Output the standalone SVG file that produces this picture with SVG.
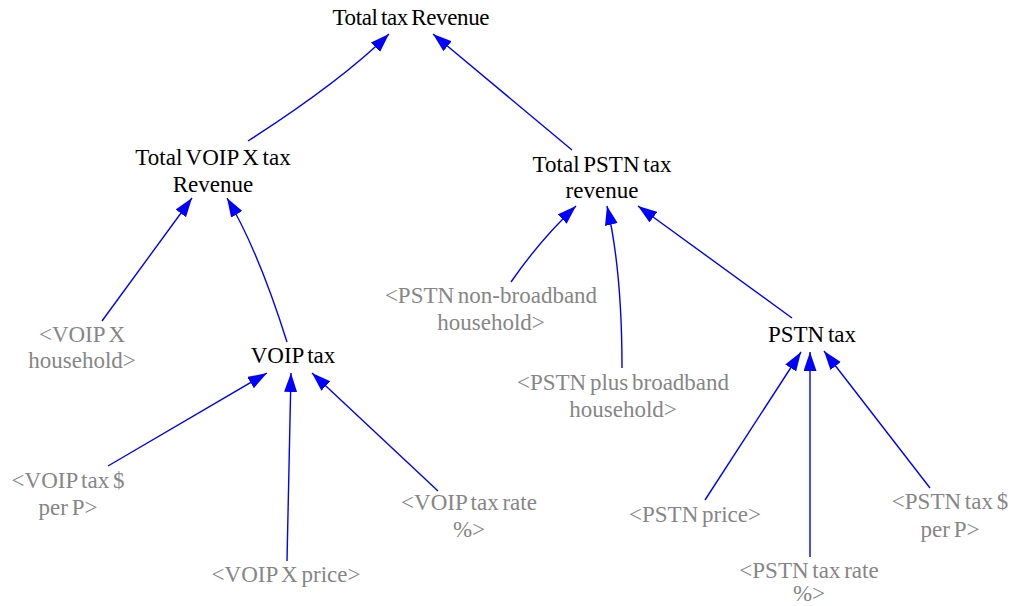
<svg xmlns="http://www.w3.org/2000/svg" width="1012" height="606" viewBox="0 0 1012 606">
<style>
text{font-family:'Liberation Serif','Times New Roman',Times,'DejaVu Serif',serif;font-size:23px;text-anchor:middle;word-spacing:-2px}
.n{fill:#000}
.g{fill:#868686}
.e path{fill:none;stroke:#0000ff;stroke-width:1.4;marker-end:url(#ah)}
</style>
<defs>
<marker id="ah" markerUnits="userSpaceOnUse" markerWidth="20" markerHeight="14" refX="19" refY="6.5" orient="auto">
<path d="M0,0 L19,6.5 L0,13 Z" fill="#0000ff"/>
</marker>
</defs>
<rect width="1012" height="606" fill="#fff"/>
<g class="e" id="connectors">
<path d="M248,141 Q340,82 389,34"/>
<path d="M572,150 Q500,90 433,34"/>
<path d="M102,321 L192,198"/>
<path d="M287,342 Q258,250 227,198"/>
<path d="M108,466 L267,373"/>
<path d="M287,561 L291,373"/>
<path d="M438,491 L312,373"/>
<path d="M511,282 Q540,240 576,206"/>
<path d="M622,368 Q622,270 607,206"/>
<path d="M792,318 L638,206"/>
<path d="M705,500 L801,352"/>
<path d="M810,557 L810,352"/>
<path d="M930,488 L824,351"/>
</g>
<g id="total"><text class="n" x="411" y="25" textLength="157" lengthAdjust="spacing">Total tax Revenue</text></g>
<g id="voipTotal"><text class="n" x="213" y="165">Total VOIP X tax</text><text class="n" x="213" y="192">Revenue</text></g>
<g id="pstnTotal"><text class="n" x="602" y="172">Total PSTN tax</text><text class="n" x="602" y="198">revenue</text></g>
<g id="voipHousehold"><text class="g" x="82" y="342">&lt;VOIP X</text><text class="g" x="82" y="368">household&gt;</text></g>
<g id="voipTax"><text class="n" x="293" y="363">VOIP tax</text></g>
<g id="pstnNonBB"><text class="g" x="491" y="303">&lt;PSTN non-broadband</text><text class="g" x="491" y="330">household&gt;</text></g>
<g id="pstnPlusBB"><text class="g" x="623" y="390">&lt;PSTN plus broadband</text><text class="g" x="623" y="417">household&gt;</text></g>
<g id="pstnTax"><text class="n" x="812" y="342">PSTN tax</text></g>
<g id="voipTaxPerP"><text class="g" x="68" y="488">&lt;VOIP tax $</text><text class="g" x="68" y="515">per P&gt;</text></g>
<g id="voipPrice"><text class="g" x="286" y="582">&lt;VOIP X price&gt;</text></g>
<g id="voipTaxRate"><text class="g" x="469" y="510">&lt;VOIP tax rate</text><text class="g" x="469" y="537">%&gt;</text></g>
<g id="pstnPrice"><text class="g" x="695" y="522">&lt;PSTN price&gt;</text></g>
<g id="pstnTaxPerP"><text class="g" x="950" y="509">&lt;PSTN tax $</text><text class="g" x="950" y="537">per P&gt;</text></g>
<g id="pstnTaxRate"><text class="g" x="809" y="578">&lt;PSTN tax rate</text><text class="g" x="809" y="601">%&gt;</text></g>
</svg>
